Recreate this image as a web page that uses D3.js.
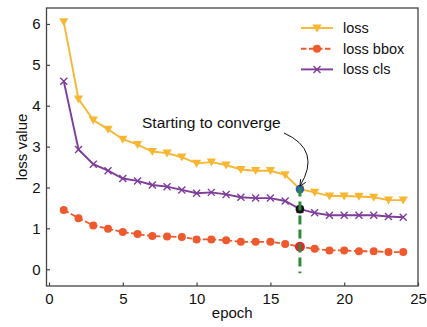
<!DOCTYPE html>
<html>
<head>
<meta charset="utf-8">
<script src="https://cdn.jsdelivr.net/npm/d3@7"></script>
<style>
  html, body { margin: 0; padding: 0; background: #fff; }
  svg { display: block; font-family: "Liberation Sans", Arial, sans-serif; }
</style>
</head>
<body>
<svg id="chart" width="427" height="327"></svg>
<script>
// Training curves per epoch
const epochs = d3.range(1, 25);
const lossTotal = [6.05, 4.16, 3.65, 3.42, 3.18, 3.05, 2.88, 2.84, 2.74, 2.59, 2.62, 2.55,
                   2.44, 2.41, 2.41, 2.31, 1.96, 1.88, 1.79, 1.79, 1.78, 1.76, 1.69, 1.69];
const lossBbox  = [1.45, 1.25, 1.07, 0.99, 0.91, 0.86, 0.81, 0.80, 0.79, 0.73, 0.73, 0.71,
                   0.67, 0.67, 0.67, 0.62, 0.55, 0.50, 0.46, 0.46, 0.44, 0.44, 0.42, 0.42];
const lossCls   = [4.60, 2.93, 2.57, 2.41, 2.22, 2.16, 2.06, 2.02, 1.94, 1.86, 1.88, 1.83,
                   1.76, 1.74, 1.74, 1.67, 1.47, 1.38, 1.32, 1.32, 1.32, 1.32, 1.29, 1.27];
const seriesNames = ["loss", "loss bbox", "loss cls"];
const xTicks = [0, 5, 10, 15, 20, 25];
const yTicks = [0, 1, 2, 3, 4, 5, 6];
const convergeEpoch = 17;
const guideRange = [2.0, -0.1];
const noteText = "Starting to converge";

const svg = d3.select("#chart");
const box = { left: 46.5, right: 418, top: 8, bottom: 286 };

const x = d3.scaleLinear().domain([-0.17, 25.0]).range([box.left, box.right]);
const y = d3.scaleLinear().domain([-0.41, 6.39]).range([box.bottom, box.top]);

const colors = { loss: "#F8B632", bbox: "#EE5A2D", cls: "#7E3D9B" };

// Axes with inward ticks
const xAxis = d3.axisBottom(x).tickValues(xTicks).tickFormat(d3.format("d")).tickSize(-3.5).tickPadding(7);
const yAxis = d3.axisLeft(y).tickValues(yTicks).tickFormat(d3.format("d")).tickSize(-3.5).tickPadding(6);

const gx = svg.append("g").attr("transform", `translate(0,${box.bottom})`).call(xAxis);
const gy = svg.append("g").attr("transform", `translate(${box.left},0)`).call(yAxis);
[gx, gy].forEach(g => {
  g.select(".domain").remove();
  g.selectAll(".tick line").attr("stroke", "#444").attr("stroke-width", 1.2);
  g.selectAll(".tick text").attr("fill", "#111").style("font-size", "15px");
});

// Frame
svg.append("rect")
  .attr("x", box.left).attr("y", box.top)
  .attr("width", box.right - box.left).attr("height", box.bottom - box.top)
  .attr("fill", "none").attr("stroke", "#444").attr("stroke-width", 1.3);

// Axis titles
svg.append("text").attr("x", (box.left + box.right) / 2).attr("y", 318)
  .attr("text-anchor", "middle").style("font-size", "15px").attr("fill", "#111").text("epoch");
svg.append("text")
  .attr("transform", `translate(27,${(box.top + box.bottom) / 2}) rotate(-90)`)
  .attr("text-anchor", "middle").style("font-size", "15px").attr("fill", "#111").text("loss value");

const line = d3.line().x((d, i) => x(epochs[i])).y(d => y(d));

// Marker shapes
const tri = (g, cx, cy, c) => g.append("path")
  .attr("d", `M${cx - 4.6},${cy - 3.6} L${cx + 4.6},${cy - 3.6} L${cx},${cy + 4.4} Z`)
  .attr("fill", c);
const dot = (g, cx, cy, c) => g.append("circle").attr("cx", cx).attr("cy", cy).attr("r", 4).attr("fill", c);
const cross = (g, cx, cy, c) => g.append("path")
  .attr("d", `M${cx - 3.5},${cy - 3.5} L${cx + 3.5},${cy + 3.5} M${cx - 3.5},${cy + 3.5} L${cx + 3.5},${cy - 3.5}`)
  .attr("stroke", c).attr("stroke-width", 1.4).attr("fill", "none");

const plot = svg.append("g");

// loss bbox (dashed, circles)
plot.append("path").datum(lossBbox).attr("d", line).attr("fill", "none")
  .attr("stroke", colors.bbox).attr("stroke-width", 1.8).attr("stroke-dasharray", "5.5,2.5");
lossBbox.forEach((v, i) => dot(plot, x(epochs[i]), y(v), colors.bbox));

// loss cls (solid, crosses)
plot.append("path").datum(lossCls).attr("d", line).attr("fill", "none")
  .attr("stroke", colors.cls).attr("stroke-width", 1.9);
lossCls.forEach((v, i) => cross(plot, x(epochs[i]), y(v), colors.cls));

// loss (solid, down triangles)
plot.append("path").datum(lossTotal).attr("d", line).attr("fill", "none")
  .attr("stroke", colors.loss).attr("stroke-width", 1.9);
lossTotal.forEach((v, i) => tri(plot, x(epochs[i]), y(v), colors.loss));

// Convergence markers at the chosen epoch
const ci = epochs.indexOf(convergeEpoch);
const cx = x(convergeEpoch);
plot.append("circle").attr("cx", cx).attr("cy", y(lossTotal[ci])).attr("r", 4.3).attr("fill", "#2F5DAA");
plot.append("circle").attr("cx", cx).attr("cy", y(lossCls[ci])).attr("r", 4.3).attr("fill", "#111");
plot.append("circle").attr("cx", cx).attr("cy", y(lossBbox[ci])).attr("r", 5).attr("fill", "#E5242B");

// Vertical guide
plot.append("line")
  .attr("x1", cx).attr("x2", cx).attr("y1", y(guideRange[0])).attr("y2", y(guideRange[1]))
  .attr("stroke", "#2E8B3C").attr("stroke-width", 3).attr("stroke-dasharray", "9,5");

// Annotation text and curved arrow
svg.append("text").attr("x", 142).attr("y", 128).style("font-size", "15.5px").attr("fill", "#111").text(noteText);
const tip = [cx, y(lossTotal[ci]) - 3];
const start = [284, 133];
const ctrl = [322, 150];
svg.append("path")
  .attr("d", `M${start[0]},${start[1]} Q${ctrl[0]},${ctrl[1]} ${tip[0]},${tip[1]}`)
  .attr("fill", "none").attr("stroke", "#111").attr("stroke-width", 1);
// open arrow head along the final tangent
const ang = Math.atan2(tip[1] - ctrl[1], tip[0] - ctrl[0]);
const hl = 7, ha = 0.45;
svg.append("path")
  .attr("d", `M${tip[0] - hl * Math.cos(ang - ha)},${tip[1] - hl * Math.sin(ang - ha)} L${tip[0]},${tip[1]} L${tip[0] - hl * Math.cos(ang + ha)},${tip[1] - hl * Math.sin(ang + ha)}`)
  .attr("fill", "none").attr("stroke", "#111").attr("stroke-width", 1);

// Legend
const legend = svg.append("g");
const legendRows = [
  { name: seriesNames[0], color: colors.loss, dash: null, mark: tri },
  { name: seriesNames[1], color: colors.bbox, dash: "5.5,2.5", mark: dot },
  { name: seriesNames[2], color: colors.cls, dash: null, mark: cross }
];
legendRows.forEach((r, i) => {
  const ly = 28 + i * 20.7;
  legend.append("line").attr("x1", 301).attr("x2", 333).attr("y1", ly).attr("y2", ly)
    .attr("stroke", r.color).attr("stroke-width", 1.9).attr("stroke-dasharray", r.dash);
  r.mark(legend, 317, ly, r.color);
  legend.append("text").attr("x", 343).attr("y", ly).attr("dy", "0.35em")
    .style("font-size", "14.5px").attr("fill", "#111").text(r.name);
});
</script>
</body>
</html>
